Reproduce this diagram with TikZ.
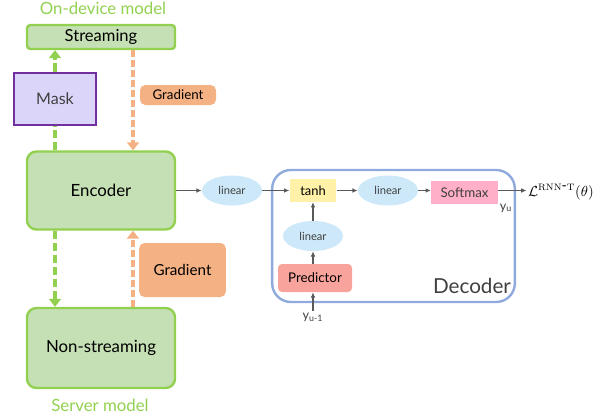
\documentclass[tikz,border=0pt]{standalone}
\usepackage[no-math]{fontspec}
\setmainfont{Lato}
\usetikzlibrary{arrows.meta,shapes.geometric}
\definecolor{modelgreen}{HTML}{92D050}
\definecolor{boxgreen}{HTML}{C5E0B4}
\definecolor{gradorange}{HTML}{F4B183}
\definecolor{maskpurple}{HTML}{7030A0}
\definecolor{maskfill}{HTML}{DCD5FA}
\definecolor{decblue}{HTML}{8FAADC}
\definecolor{linblue}{HTML}{CDE8F8}
\definecolor{tanhyellow}{HTML}{FFF2A8}
\definecolor{softpink}{HTML}{FFB0C8}
\definecolor{predred}{HTML}{F8A39B}
\definecolor{arrgray}{HTML}{595959}
\definecolor{txtgray}{HTML}{404040}
\begin{document}
\begin{tikzpicture}[x=0.75pt,y=-0.75pt,
                    modelbox/.style={draw=modelgreen,fill=boxgreen,line width=1.8pt,
                      rounded corners=7pt,minimum width=111pt,font=\fontsize{12.6}{15}\selectfont},
                    gradbox/.style={fill=gradorange,rounded corners=4pt,text=black},
                    modellbl/.style={text=modelgreen,font=\fontsize{12.6}{15}\selectfont},
                    lin/.style={ellipse,fill=linblue,inner sep=0pt,minimum width=45pt,
                      minimum height=22.5pt,text=txtgray,font=\fontsize{8.4}{10}\selectfont},
                    flow/.style={draw=arrgray,line width=0.9pt,-{Latex[length=4pt,width=3.5pt]}},
                    gdash/.style={draw=modelgreen,line width=3pt,dash pattern=on 6.5pt off 2.5pt},
                    odash/.style={draw=gradorange,line width=3pt,dash pattern=on 5pt off 2.5pt},
                    tip/.style={-{Triangle[length=6pt,width=9pt]}}]
\useasboundingbox (0,0) rectangle (608,419);
% encoders
\node[modellbl] (ondev) at (103,8) {On-device model};
\node[modelbox,minimum height=15pt,rounded corners=2.5pt,font=\fontsize{12.4}{14}\selectfont] (stream) at (101,37) {Streaming};
\node[draw=maskpurple,fill=maskfill,line width=1.3pt,minimum width=61.5pt,minimum height=39pt,
      text=txtgray,font=\fontsize{12}{14}\selectfont] (mask) at (55,99) {Mask};
\node[gradbox,minimum width=57pt,minimum height=15pt,font=\fontsize{10}{12}\selectfont] (grad1) at (178,95) {Gradient};
\node[modelbox,minimum height=58.5pt] (enc) at (101,190.5) {Encoder};
\node[gradbox,minimum width=65pt,minimum height=40.5pt,font=\fontsize{11.4}{13}\selectfont] (grad2) at (182.5,270) {Gradient};
\node[modelbox,minimum height=60pt] (nonstream) at (101,348) {Non-streaming};
\node[modellbl] (server) at (100,405) {Server model};
% decoder
\node[draw=decblue,line width=1.8pt,rounded corners=14pt,minimum width=182pt,minimum height=99pt] (dec) at (393.5,236) {};
\node[text=txtgray,font=\fontsize{15.5}{18}\selectfont] (declbl) at (472,286) {Decoder};
\node[lin] (lin1) at (232,190.5) {linear};
\node[fill=tanhyellow,minimum width=35pt,minimum height=17pt,inner sep=0pt,font=\fontsize{9.7}{11}\selectfont] (tanh) at (313,190.5) {tanh};
\node[lin] (lin2) at (388,190.5) {linear};
\node[fill=softpink,minimum width=50pt,minimum height=17pt,inner sep=0pt,text=txtgray,
      font=\fontsize{10}{12}\selectfont] (soft) at (464.5,192.5) {Softmax};
\node[inner sep=1pt,font=\fontsize{10.6}{13}\selectfont] (loss) at (561,192) {$\mathcal{L}^{\mathrm{RNN\mbox{-}T}}(\theta)$};
\node[inner sep=0pt,text=txtgray,font=\fontsize{9.5}{11}\selectfont] (yu) at (506,208) {y\textsubscript{u}};
\node[lin] (lin3) at (313,236) {linear};
\node[fill=predred,rounded corners=3pt,minimum width=55.5pt,minimum height=21pt,inner sep=0pt,
      font=\fontsize{10}{12}\selectfont] (pred) at (315,278) {Predictor};
\node[inner sep=1pt,text=txtgray,font=\fontsize{9.5}{11}\selectfont] (yu1) at (313,317) {y\textsubscript{u-1}};
% dashed links
\draw[gdash] ([xshift=-34.5pt]enc.north) -- (mask.south);
\draw[gdash,tip] (mask.north) -- (mask.north |- stream.south);
\draw[gdash,tip] ([xshift=-34.5pt]enc.south) -- ([xshift=-34.5pt]nonstream.north);
\draw[odash,tip] ([xshift=24pt]stream.south) -- ([xshift=24pt]enc.north);
\draw[odash,tip] ([xshift=24pt]nonstream.north) -- ([xshift=24pt]enc.south);
% flow
\draw[flow] (enc) -- (lin1);
\draw[flow] (lin1) -- (tanh);
\draw[flow] (tanh) -- (lin2);
\draw[flow] (lin2) -- (lin2 -| soft.west);
\draw[flow] (soft.east |- lin2) -- (loss.west |- lin2);
\draw[flow] (lin3) -- (tanh);
\draw[flow] (lin3 |- pred.north) -- (lin3);
\draw[flow] (yu1) -- (yu1 |- pred.south);
\end{tikzpicture}
\end{document}
